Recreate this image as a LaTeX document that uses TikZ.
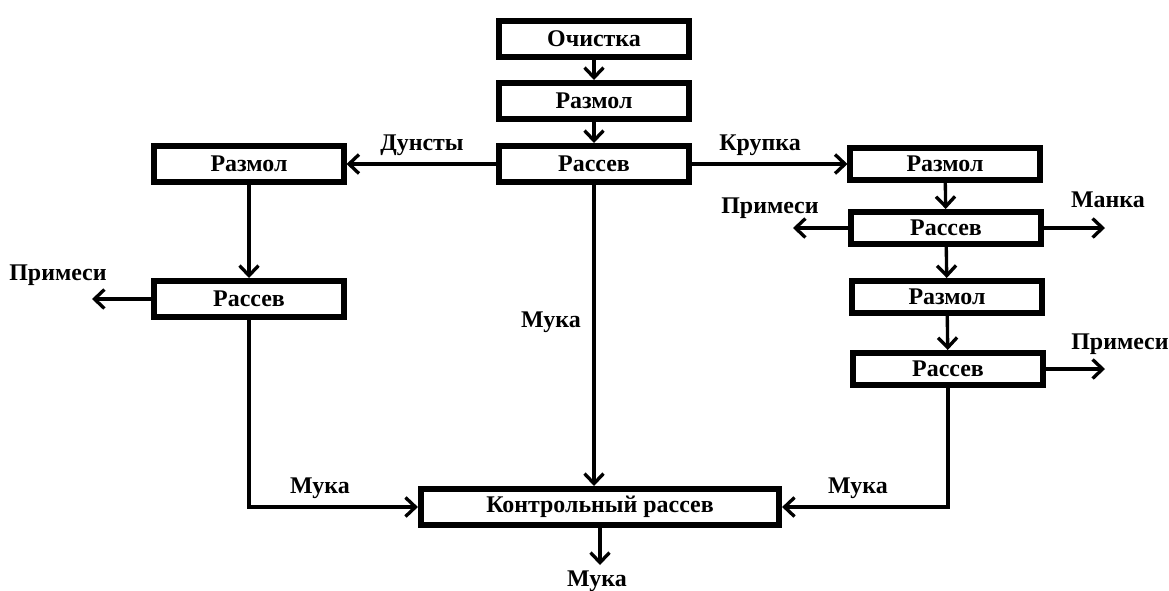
\documentclass[tikz,border=0pt]{standalone}
\usepackage{fontspec}
\setmainfont{Liberation Serif}
\usetikzlibrary{positioning, arrows.meta}

\begin{document}
\begin{tikzpicture}[x=0.01cm, y=-0.01cm,
  stage/.style={draw, line width=1.7pt, minimum width=1.89cm, minimum height=0.36cm,
                inner sep=0pt, font=\bfseries\fontsize{6.8}{8}\selectfont},
  lowstage/.style={stage, minimum height=0.32cm},
  widestage/.style={stage, minimum width=3.58cm},
  flow/.style={line width=0.95pt, -{Straight Barb[length=1mm, width=1.9mm]}},
  lbl/.style={font=\bfseries\fontsize{6.8}{8}\selectfont, inner sep=0pt}
]
  \useasboundingbox (0,0) rectangle (1169,590);

  % main column
  \node[stage] (ochistka) at (594,39) {Очистка};
  \node[stage] (razmol)   at (594,101) {Размол};
  \node[stage] (rassev)   at (594,164) {Рассев};

  % left column
  \node[stage] (lrazmol) at (249,164) {Размол};
  \node[stage] (lrassev) at (249,299) {Рассев};

  % right column
  \node[lowstage] (rrazmol)  at (945,164) {Размол};
  \node[lowstage] (rrassev)  at (946,228) {Рассев};
  \node[lowstage] (rrazmolb) at (947,297) {Размол};
  \node[lowstage] (rrassevb) at (948,369) {Рассев};

  \node[widestage] (kontrol) at (600,507) {Контрольный рассев};

  % free ends
  \coordinate (lout)  at (92,299);
  \coordinate (rlout) at (793,228);
  \coordinate (rrout) at (1105,228);
  \coordinate (rbout) at (1105,369);
  \coordinate (kout)  at (600,565);

  \draw[flow] (ochistka) -- (razmol);
  \draw[flow] (razmol) -- (rassev);
  \draw[flow] (rassev) -- (lrazmol);
  \draw[flow] (rassev) -- (rrazmol);
  \draw[flow] (rassev.south) -- (rassev.south |- kontrol.north);

  \draw[flow] (lrazmol) -- (lrassev);
  \draw[flow] (lrassev) -- (lout);
  \draw[flow] (lrassev.south) |- (kontrol.west);

  \draw[flow] (rrazmol) -- (rrassev);
  \draw[flow] (rrassev) -- (rlout);
  \draw[flow] (rrassev) -- (rrout);
  \draw[flow] (rrassev) -- (rrazmolb);
  \draw[flow] (rrazmolb) -- (rrassevb);
  \draw[flow] (rrassevb) -- (rbout);
  \draw[flow] (rrassevb.south) |- (kontrol.east);
  \draw[flow] (kontrol) -- (kout);

  % labels
  \node[lbl] (ldunst)  at (422,145) {Дунсты};
  \node[lbl] (lkrup)   at (760,145) {Крупка};
  \node[lbl] (lmuka)   at (551,322) {Мука};
  \node[lbl] (lprim)   at (58,275)  {Примеси};
  \node[lbl] (lmukal)  at (320,488) {Мука};
  \node[lbl] (lprimr)  at (770,208) {Примеси};
  \node[lbl] (lmanka)  at (1108,200) {Манка};
  \node[lbl] (lprimb)  at (1120,344) {Примеси};
  \node[lbl] (lmukar)  at (858,488) {Мука};
  \node[lbl] (lmukab)  at (597,581) {Мука};
\end{tikzpicture}
\end{document}
